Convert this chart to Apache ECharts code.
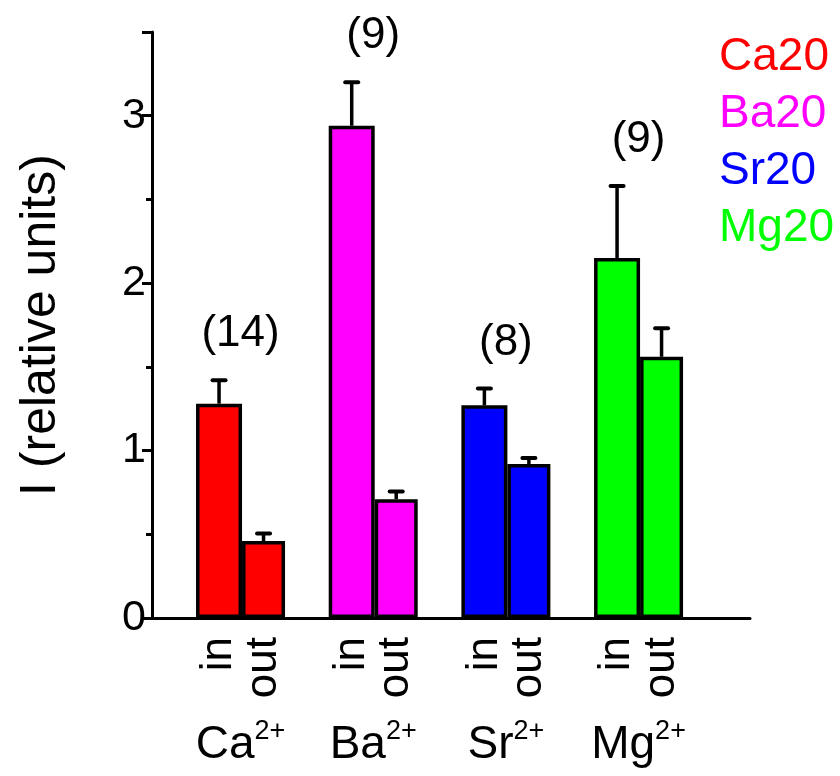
<!DOCTYPE html>
<html>
<head>
<meta charset="utf-8">
<script src="https://cdn.jsdelivr.net/npm/echarts@6/dist/echarts.min.js"></script>
<style>html,body{margin:0;padding:0;background:#fff;}#chart{width:840px;height:776px;}</style>
</head>
<body>
<div id="chart"></div>
<script>
// ---- data ----
const categories = ['Ca', 'Ba', 'Sr', 'Mg'];
const chargeLabel = '2+';
const subLabels = ['in', 'out'];
const inValues = [1.28, 2.94, 1.27, 2.15];
const inErrors = [0.14, 0.26, 0.10, 0.43];
const outValues = [0.46, 0.71, 0.92, 1.56];
const outErrors = [0.045, 0.045, 0.035, 0.17];
const nCounts = [14, 9, 8, 9];
const colors = ['#ff0000', '#ff00ff', '#0000ff', '#00ff00'];
const legendLabels = ['Ca20', 'Ba20', 'Sr20', 'Mg20'];
const yMin = 0, yMax = 3.5, yInterval = 1;

// ---- styling ----
const FONT = '"Liberation Sans", Arial, sans-serif';
const IN_W = 46, OUT_W = 43;
const inOffset = -(IN_W + OUT_W) / 2 + IN_W / 2;
const outOffset = -(IN_W + OUT_W) / 2 + IN_W + OUT_W / 2;

function errRender(offset, withCount) {
  return function (params, api) {
    const i = api.value(0), v = api.value(1), e = api.value(2);
    const base = api.coord([i, v]);
    const top = api.coord([i, v + e]);
    const x = base[0] + offset;
    const children = [
      {type: 'line', shape: {x1: x, y1: base[1], x2: x, y2: top[1]},
       style: {stroke: '#000', lineWidth: 3.5}},
      {type: 'line', shape: {x1: x - 6.5, y1: top[1], x2: x + 6.5, y2: top[1]},
       style: {stroke: '#000', lineWidth: 4, lineCap: 'round'}}
    ];
    if (withCount) {
      children.push({type: 'text', x: base[0], y: top[1] - 46,
        style: {text: '(' + api.value(3) + ')', fill: '#000', fontSize: 44, fontFamily: FONT,
                 align: 'center', verticalAlign: 'middle'}});
    }
    return {type: 'group', children: children};
  };
}

const chart = echarts.init(document.getElementById('chart'), null, {renderer: 'canvas'});
chart.setOption({
  animation: false,
  backgroundColor: '#fff',
  textStyle: {fontFamily: FONT},
  grid: [
    {left: 174.2, right: 135.1, top: 32, bottom: 158},
    {left: 152, right: 90, top: 32, bottom: 158}
  ],
  xAxis: [
    {type: 'category', gridIndex: 0, data: categories,
     axisLine: {show: false}, axisTick: {show: false},
     axisLabel: {margin: 100, interval: 0, color: '#000',
       formatter: function (v) { return '{m|' + v + '}{s|' + chargeLabel + '}'; },
       rich: {m: {fontSize: 46, fontFamily: FONT, color: '#000', lineHeight: 50, verticalAlign: 'bottom'},
              s: {fontSize: 27, fontFamily: FONT, color: '#000', lineHeight: 22, verticalAlign: 'top'}}}},
    {type: 'value', gridIndex: 1, min: 0, max: 1,
     axisLine: {show: true, onZero: false, lineStyle: {color: '#000', width: 3}},
     axisTick: {show: false}, axisLabel: {show: false}, splitLine: {show: false}}
  ],
  yAxis: [
    {type: 'value', gridIndex: 0, min: yMin, max: yMax, interval: yInterval, show: false},
    {type: 'value', gridIndex: 1, min: yMin, max: yMax, interval: yInterval,
     name: 'I (relative units)', nameLocation: 'middle', nameGap: 86,
     nameTextStyle: {fontSize: 50, color: '#000', fontFamily: FONT},
     axisLine: {show: true, lineStyle: {color: '#000', width: 3}},
     axisTick: {show: true, length: 10, lineStyle: {color: '#000', width: 3}},
     minorTick: {show: true, splitNumber: 2, length: 6, lineStyle: {color: '#000', width: 3}},
     axisLabel: {fontSize: 43, color: '#000', margin: 6, fontFamily: FONT,
       formatter: function (v) { return v === 3.5 ? '' : String(v); }},
     splitLine: {show: false}}
  ],
  graphic: legendLabels.map(function (t, i) {
    return {type: 'text', left: 719, top: 34 + i * 57,
      style: {text: t, fill: colors[i], fontSize: 46, fontFamily: FONT}};
  }),
  series: [
    {type: 'bar', name: subLabels[0], xAxisIndex: 0, yAxisIndex: 0, barWidth: IN_W, barGap: '0%',
     data: inValues.map(function (v, i) { return {value: v, itemStyle: {color: colors[i]}}; }),
     itemStyle: {borderColor: '#000', borderWidth: 3.5},
     label: {show: true, position: 'bottom', distance: 19, rotate: 90, align: 'right', verticalAlign: 'middle',
       formatter: subLabels[0], fontSize: 44, color: '#000', fontFamily: FONT}},
    {type: 'bar', name: subLabels[1], xAxisIndex: 0, yAxisIndex: 0, barWidth: OUT_W, barGap: '0%',
     data: outValues.map(function (v, i) { return {value: v, itemStyle: {color: colors[i]}}; }),
     itemStyle: {borderColor: '#000', borderWidth: 3.5},
     label: {show: true, position: 'bottom', distance: 19, rotate: 90, align: 'right', verticalAlign: 'middle',
       formatter: subLabels[1], fontSize: 44, color: '#000', fontFamily: FONT}},
    {type: 'custom', xAxisIndex: 0, yAxisIndex: 0, z: 5,
     encode: {x: 0, y: 1},
     data: inValues.map(function (v, i) { return [i, v, inErrors[i], nCounts[i]]; }),
     renderItem: errRender(inOffset, true)},
    {type: 'custom', xAxisIndex: 0, yAxisIndex: 0, z: 5,
     encode: {x: 0, y: 1},
     data: outValues.map(function (v, i) { return [i, v, outErrors[i]]; }),
     renderItem: errRender(outOffset, false)}
  ]
});
</script>
</body>
</html>
